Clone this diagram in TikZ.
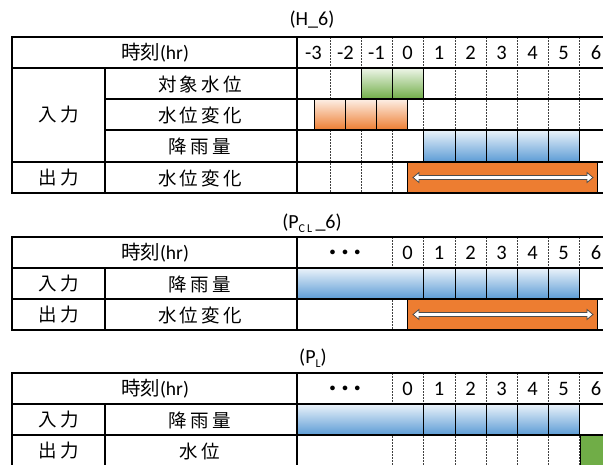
\documentclass[tikz,border=0pt]{standalone}
\usepackage{fontspec}
\setmainfont{Carlito}
\newfontfamily\cjk[LetterSpace=18]{Noto Sans CJK JP}
\newfontfamily\cjkh{Noto Sans CJK JP}
\definecolor{og}{HTML}{ED7D31}
\definecolor{gn}{HTML}{70AD47}
\definecolor{bl}{HTML}{5B9BD5}
\tikzset{
  lat/.style={font=\fontsize{20.5}{20.5}\selectfont, inner sep=0pt},
  ttl/.style={font=\fontsize{20}{20}\selectfont, inner sep=0pt},
  lbl/.style={font=\fontsize{18.5}{18.5}\selectfont\cjk, inner sep=0pt},
  hdr/.style={font=\fontsize{19.5}{19.5}\selectfont, inner sep=0pt},
  dots/.style={font=\fontsize{11}{11}\selectfont\bfseries, inner sep=0pt},
  outerline/.style={line width=2pt},
  midline/.style={line width=1.5pt},
  innerline/.style={line width=1.1pt},
  griddash/.style={line width=0.6pt, black!75, dash pattern=on 1.5pt off 1.5pt},
  gcell/.style={draw=black, line width=0.9pt, top color=gn!12, bottom color=gn},
  ocell/.style={draw=black, line width=0.9pt, top color=og!12, bottom color=og},
  bcell/.style={draw=black, line width=0.9pt, top color=bl!12, bottom color=bl},
  obar/.style={draw=black, line width=0.9pt, fill=og},
  gsolid/.style={draw=black, line width=0.9pt, fill=gn},
  warrow/.style={fill=white, draw=black!70, line width=0.8pt, line join=miter},
}
\begin{document}
\begin{tikzpicture}[x=1pt,y=-1pt]
\useasboundingbox (0,0) rectangle (603,464);
\clip (0,0) rectangle (603,464);
\fill[white] (0,0) rectangle (603,464);

%%%%%%%%%%%%%%%% Table 1 (H_6)
\node[ttl] (t1) at (312,20) {(H\_6)};
\foreach \x in {330,361,392,423,455,486,517,548,579}
  \draw[griddash] (\x,37) -- (\x,193);
% green
\foreach \x in {361,392}
  \draw[gcell] (\x,68) rectangle ++(31,31);
% orange gradient
\foreach \x in {314,345,376}
  \draw[ocell] (\x,99) rectangle ++(31,31);
% blue
\foreach \x/\w in {423/32,455/31,486/31,517/31,548/31}
  \draw[bcell] (\x,130) rectangle ++(\w,32);
% output bar
\draw[obar] (407,162) rectangle (597,193);
\draw[warrow] (413,177.5) -- (419,172.5) -- (419,175.5) -- (587,175.5) -- (587,172.5) -- (593,177.5)
  -- (587,182.5) -- (587,179.5) -- (419,179.5) -- (419,182.5) -- cycle;
% lines
\draw[outerline] (12,37) -- (610,37);
\draw[midline] (12,68) -- (610,68);
\draw[innerline] (105,99) -- (610,99);
\draw[innerline] (105,130) -- (610,130);
\draw[outerline] (12,162) -- (610,162);
\draw[outerline] (12,193) -- (610,193);
\draw[outerline] (12,36) -- (12,194);
\draw[midline] (105,68) -- (105,193);
\draw[midline] (297,37) -- (297,193);
% texts
\node[hdr] (t1h) at (155,53) {{\cjkh 時刻}(hr)};
\foreach \t/\x [count=\k] in {-3/313.5,-2/345.5,-1/376.5,0/407.5,1/439,2/470.5,3/501.5,4/532.5,5/563.5,6/596}
  \node[lat] (t1n\k) at (\x,53) {\t};
\node[lbl] (t1in) at (58.5,115) {入力};
\node[lbl] (t1out) at (58.5,178) {出力};
\node[lbl] (t1r1) at (200,84) {対象水位};
\node[lbl] (t1r2) at (200,115) {水位変化};
\node[lbl] (t1r3) at (200,146) {降雨量};
\node[lbl] (t1r4) at (200,178) {水位変化};

%%%%%%%%%%%%%%%% Table 2 (P_CL _6)
\node[ttl] (t2) at (312,223) {(P\raisebox{-4pt}{\fontsize{12}{12}\selectfont C\,L}\,\_6)};
\foreach \x in {392,423,455,486,517,548,579}
  \draw[griddash] (\x,237) -- (\x,330);
\draw[bcell] (297,268) rectangle (423,299);
\foreach \x/\w in {423/32,455/31,486/31,517/31,548/31}
  \draw[bcell] (\x,268) rectangle ++(\w,31);
\draw[obar] (407,299) rectangle (597,330);
\draw[warrow] (413,314.5) -- (419,309.5) -- (419,312.5) -- (587,312.5) -- (587,309.5) -- (593,314.5)
  -- (587,319.5) -- (587,316.5) -- (419,316.5) -- (419,319.5) -- cycle;
\draw[outerline] (12,237) -- (610,237);
\draw[midline] (12,268) -- (610,268);
\draw[midline] (12,299) -- (610,299);
\draw[outerline] (12,330) -- (610,330);
\draw[outerline] (12,236) -- (12,331);
\draw[midline] (105,268) -- (105,330);
\draw[midline] (297,237) -- (297,330);
\node[hdr] (t2h) at (155,253) {{\cjkh 時刻}(hr)};
\node[dots] (t2d) at (345,253) {•\hspace{7pt}•\hspace{7pt}•};
\foreach \t/\x [count=\k] in {0/407.5,1/439,2/470.5,3/501.5,4/532.5,5/563.5,6/596}
  \node[lat] (t2n\k) at (\x,253) {\t};
\node[lbl] (t2in) at (58.5,284) {入力};
\node[lbl] (t2out) at (58.5,315) {出力};
\node[lbl] (t2r1) at (200,284) {降雨量};
\node[lbl] (t2r2) at (200,315) {水位変化};

%%%%%%%%%%%%%%%% Table 3 (P_L)
\node[ttl] (t3) at (313,358) {(P\raisebox{-4pt}{\fontsize{12}{12}\selectfont L})};
\foreach \x in {392,423,455,486,517,548,579}
  \draw[griddash] (\x,373) -- (\x,470);
\draw[bcell] (297,404) rectangle (423,435);
\foreach \x/\w in {423/32,455/31,486/31,517/31,548/31}
  \draw[bcell] (\x,404) rectangle ++(\w,31);
\draw[gsolid] (580,435) rectangle (612,467);
\draw[outerline] (12,373) -- (610,373);
\draw[midline] (12,404) -- (610,404);
\draw[midline] (12,435) -- (610,435);
\draw[outerline] (12,372) -- (12,470);
\draw[midline] (105,404) -- (105,470);
\draw[midline] (297,373) -- (297,470);
\node[hdr] (t3h) at (155,389) {{\cjkh 時刻}(hr)};
\node[dots] (t3d) at (345,389) {•\hspace{7pt}•\hspace{7pt}•};
\foreach \t/\x [count=\k] in {0/407.5,1/439,2/470.5,3/501.5,4/532.5,5/563.5,6/596}
  \node[lat] (t3n\k) at (\x,389) {\t};
\node[lbl] (t3in) at (58.5,420) {入力};
\node[lbl] (t3out) at (58.5,451) {出力};
\node[lbl] (t3r1) at (200,420) {降雨量};
\node[lbl] (t3r2) at (200,451) {水位};
\end{tikzpicture}
\end{document}
